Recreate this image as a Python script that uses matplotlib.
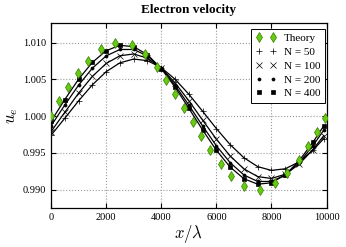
import matplotlib
matplotlib.use('Agg')
import matplotlib.pyplot as plt

plt.rcParams['font.family'] = 'Liberation Serif'
plt.rcParams['mathtext.fontset'] = 'cm'

# theory points
x_th = [0, 302, 629, 967, 1354, 1802, 2322, 2950, 3410, 3833, 4172, 4498, 4825,
        5139, 5441, 5780, 6179, 6542, 7013, 7582, 8126, 8573, 8996, 9335, 9637, 9940]
u_th = [1.0000, 1.00205, 1.00395, 1.00582, 1.00755, 1.00909, 1.0100, 1.00968, 1.0085,
        1.00668, 1.0049, 1.0030, 1.0011, 0.9992, 0.99732, 0.99541, 0.9935, 0.99182,
        0.99045, 0.9900, 0.99091, 0.99227, 0.99409, 0.99591, 0.99782, 0.99977]

# simulation samples
x_sim = [0, 500, 1000, 1500, 2000, 2500, 3000, 3500, 4000, 4500, 5000,
         5500, 6000, 6500, 7000, 7500, 8000, 8500, 9000, 9500, 9900]
u_50 = [0.99740, 0.99972, 1.00209, 1.00427, 1.00606, 1.00727, 1.00779, 1.00756, 1.00662,
        1.00504, 1.00300, 1.00068, 0.99831, 0.99613, 0.99434, 0.99313, 0.99262, 0.99284,
        0.99378, 0.99536, 0.99696]
u_100 = [0.99789, 1.00053, 1.00313, 1.00542, 1.00718, 1.00823, 1.00848, 1.00790, 1.00655,
         1.00455, 1.00211, 0.99947, 0.99687, 0.99458, 0.99282, 0.99177, 0.99152, 0.99210,
         0.99345, 0.99545, 0.99737]
u_200 = [0.99868, 1.00152, 1.00423, 1.00654, 1.00821, 1.00909, 1.00909, 1.00821, 1.00654,
         1.00423, 1.00152, 0.99868, 0.99597, 0.99367, 0.99199, 0.99111, 0.99111, 0.99199,
         0.99367, 0.99597, 0.99812]
u_400 = [0.99931, 1.00227, 1.00504, 1.00733, 1.00892, 1.00966, 1.00947, 1.00838, 1.00648,
         1.00397, 1.00109, 0.99813, 0.99536, 0.99307, 0.99148, 0.99074, 0.99093, 0.99202,
         0.99392, 0.99643, 0.99871]

fig = plt.figure(figsize=(3.46, 2.47), dpi=100)
ax = fig.add_axes([0.1474, 0.158, 0.7966, 0.749])

sims = [(u_50, '+', 'N = 50', 4.5),
        (u_100, 'x', 'N = 100', 4),
        (u_200, 'o', 'N = 200', 2.2),
        (u_400, 's', 'N = 400', 2.4)]

ax.plot(x_th, u_th, ls='none', marker='d', ms=5.5, mfc='#66cc11', mec='#3a7a00',
        mew=0.5, label='Theory', zorder=4)
for u, m, lab, ms in sims:
    ax.plot(x_sim, u, '-', color='k', lw=0.9, zorder=2)
    ax.plot(x_sim, u, ls='none', marker=m, ms=ms, color='k', mew=0.5, label=lab, zorder=3)

ax.set_xlim(0, 10000)
ax.set_ylim(0.9875, 1.0127)
ax.set_xticks([0, 2000, 4000, 6000, 8000, 10000])
ax.set_yticks([0.990, 0.995, 1.000, 1.005, 1.010])
ax.set_yticklabels(['0.990', '0.995', '1.000', '1.005', '1.010'])
ax.tick_params(direction='in', top=True, right=True, labelsize=7.5, length=3.5, width=0.8)
ax.grid(True, ls=':', color='#999999', lw=0.8)
for s in ax.spines.values():
    s.set_linewidth(0.9)

ax.set_xlabel(r'$x/\lambda$', fontsize=12, labelpad=1)
ax.set_ylabel(r'$u_e$', fontsize=12, labelpad=2)
ax.set_title('Electron velocity', fontsize=9.5, fontweight='bold', pad=7)

leg = ax.legend(loc='upper right', bbox_to_anchor=(325 / 346, 1 - 29 / 247),
                bbox_transform=fig.transFigure, numpoints=2, fontsize=8,
                fancybox=False, framealpha=1, edgecolor='k', handlelength=1.9,
                borderpad=0.4, labelspacing=0.36, handletextpad=0.67, borderaxespad=0)
leg.get_frame().set_linewidth(0.7)

fig.savefig('out.png', dpi=100)
